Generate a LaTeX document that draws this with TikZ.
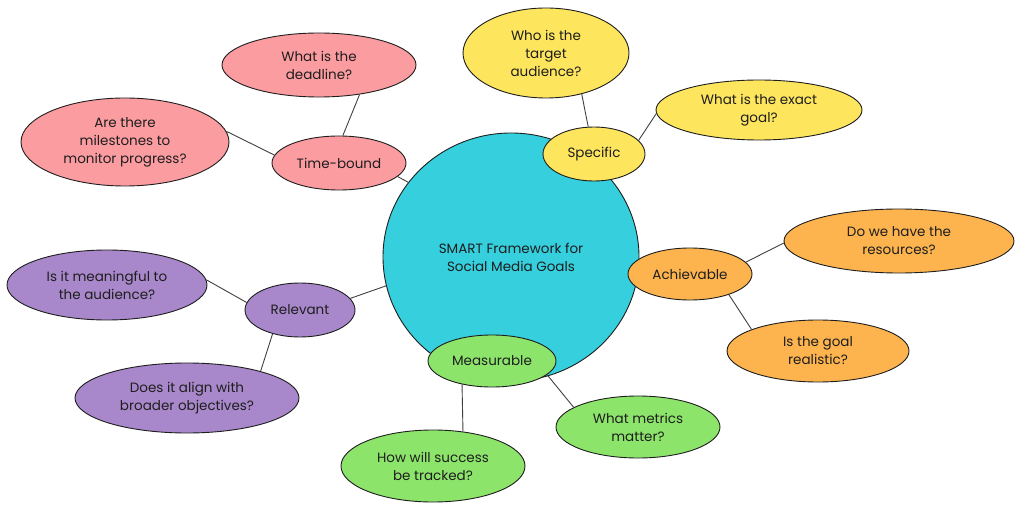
\documentclass[tikz,border=0pt]{standalone}
\usepackage{fontspec}
\setmainfont{Poppins}
\usetikzlibrary{shapes.geometric}
\definecolor{cpink}{HTML}{FB9CA1}
\definecolor{cyel}{HTML}{FDE55E}
\definecolor{ccyan}{HTML}{36CFDD}
\definecolor{corg}{HTML}{FDB44F}
\definecolor{cpur}{HTML}{A888CA}
\definecolor{cgrn}{HTML}{8DE46B}
\definecolor{cink}{HTML}{1E1E1E}
\tikzset{
  bub/.style={ellipse, draw=cink, line width=0.9pt, inner sep=0pt, align=center,
    font=\fontsize{13.5}{18}\selectfont, text=cink},
  link/.style={draw=cink!85, line width=0.9pt},
}
\newcommand{\bubble}[7]{% name, x, y, rx, ry, colour, text
  \node[bub, fill=#6, minimum width=2*#4pt, minimum height=2*#5pt] (#1) at (#2,#3) {#7};}
\begin{document}
\begin{tikzpicture}[x=1pt,y=-1pt]
\useasboundingbox (0,0) rectangle (1024,510);
% central
\bubble{c}{511}{257}{128}{124}{ccyan}{SMART Framework for\\Social Media Goals}
% categories
\bubble{spec}{594}{154}{51}{27}{cyel}{Specific}
\bubble{ach}{690}{274}{62}{26}{corg}{Achievable}
\bubble{meas}{492}{361}{64}{26}{cgrn}{Measurable}
\bubble{rel}{300}{310}{55}{27}{cpur}{Relevant}
\bubble{time}{339}{163}{67}{27}{cpink}{Time-bound}
% leaves
\bubble{who}{546}{53}{83}{45}{cyel}{Who is the\\target\\audience?}
\bubble{goal}{759}{110}{103}{30}{cyel}{What is the exact\\goal?}
\bubble{res}{899}{241}{115}{32}{corg}{Do we have the\\resources?}
\bubble{real}{818}{351}{91}{31}{corg}{Is the goal\\realistic?}
\bubble{metr}{638}{427}{82}{31}{cgrn}{What metrics\\matter?}
\bubble{track}{433}{466}{92}{36}{cgrn}{How will success\\be tracked?}
\bubble{mean}{107}{285}{100}{35}{cpur}{Is it meaningful to\\the audience?}
\bubble{align}{187}{398}{112}{35}{cpur}{Does it align with\\broader objectives?}
\bubble{dead}{319}{65}{97}{32}{cpink}{What is the\\deadline?}
\bubble{mile}{125}{142}{104}{44}{cpink}{Are there\\milestones to\\monitor progress?}
% connectors
\draw[link] (spec.17) -- (goal.182);
\draw[link] (who.311) -- (spec.102);
\draw[link] (dead.324) -- (time.82);
\draw[link] (mile.6) -- (time.173);
\draw[link] (time.347) -- (c.144);
\draw[link] (ach.12) -- (res.181);
\draw[link] (ach.332) -- (real.162);
\draw[link] (mean.3) -- (rel.172);
\draw[link] (rel.221) -- (align.20);
\draw[link] (rel.13) -- (c.193);
\draw[link] (meas.346) -- (metr.163);
\draw[link] (meas.218) -- (track.49);
\end{tikzpicture}
\end{document}
